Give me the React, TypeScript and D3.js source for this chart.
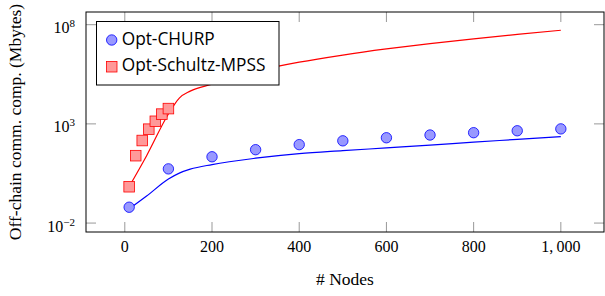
import React from 'react';
import * as d3 from 'd3';

// line samples (x = # nodes)
const lineNodes = [10, 50, 100, 125, 150, 200, 300, 400, 500, 600, 700, 800, 900, 1000];
const churpLine = [0.052, 0.23, 1.66, 3.3, 5.2, 8.9, 18.6, 31.6, 44.7, 61.7, 85, 120, 166, 229];
const schultzLine = [0.69, 25, 3160, 20000, 44700, 100000, 450000, 1290000, 2950000, 6000000, 11200000, 19500000, 32400000, 52500000];

// marker data
const churpNodes = [10, 100, 200, 300, 400, 500, 600, 700, 800, 900, 1000];
const churpPoints = [0.063, 5.4, 22, 50, 90, 140, 200, 275, 360, 450, 560];
const schultzNodes = [10, 25, 40, 55, 70, 85, 100];
const schultzPoints = [0.68, 25, 145, 540, 1350, 3100, 5900];

const xTicks = [0, 200, 400, 600, 800, 1000];
const yTicks = [-2, 3, 8];
const seriesNames = ['Opt-CHURP', 'Opt-Schultz-MPSS'];

const W = 605;
const H = 296;
const left = 86, right = 604, top = 12, bottom = 232;
const serif = '"Liberation Serif", "DejaVu Serif", serif';
const sans = '"Open Sans", "Noto Sans", sans-serif';

const App: React.FC = () => {
  const x = d3.scaleLinear().domain([-89, 1099]).range([left, right]);
  const y = d3.scaleLog().domain([Math.pow(10, -2.45), Math.pow(10, 8.64)]).range([bottom, top]);

  const line = d3.line<[number, number]>()
    .x(d => x(d[0]))
    .y(d => y(d[1]))
    .curve(d3.curveMonotoneX);

  const churpPath = line(lineNodes.map((n, i) => [n, churpLine[i]]));
  const schultzPath = line(lineNodes.map((n, i) => [n, schultzLine[i]]));
  // pgfplots style thousands separator "1, 000"
  const fmt = (v: number) => (v >= 1000 ? d3.format(',')(v).replace(',', ',\u2009') : String(v));
  const tickColor = '#999';

  return (
    <svg width={W} height={H} style={{ position: 'absolute', left: 0, top: 0, background: '#fff' }}>
      <clipPath id="plot-clip">
        <rect x={left} y={top} width={right - left} height={bottom - top} />
      </clipPath>

      {/* ticks */}
      {xTicks.map(t => (
        <g key={'xt' + t}>
          <line x1={x(t)} x2={x(t)} y1={bottom} y2={bottom - 10} stroke={tickColor} />
          <line x1={x(t)} x2={x(t)} y1={top} y2={top + 10} stroke={tickColor} />
          <text x={x(t)} y={252} textAnchor="middle" fontFamily={serif} fontSize={16}>{fmt(t)}</text>
        </g>
      ))}
      {yTicks.map(t => (
        <g key={'yt' + t}>
          <line x1={left} x2={left + 10} y1={y(Math.pow(10, t))} y2={y(Math.pow(10, t))} stroke={tickColor} />
          <line x1={right} x2={right - 10} y1={y(Math.pow(10, t))} y2={y(Math.pow(10, t))} stroke={tickColor} />
          <text x={75} y={y(Math.pow(10, t)) + 8.5} textAnchor="end" fontFamily={serif} fontSize={16}>
            10<tspan dy={-6} fontSize={11}>{t < 0 ? '\u2212' + Math.abs(t) : t}</tspan>
          </text>
        </g>
      ))}

      <g clipPath="url(#plot-clip)">
        <path d={churpPath || ''} fill="none" stroke="#0000ff" strokeWidth={1.2} />
        <path d={schultzPath || ''} fill="none" stroke="#ff0000" strokeWidth={1.2} />
        {churpNodes.map((n, i) => (
          <circle key={'c' + n} cx={x(n)} cy={y(churpPoints[i])} r={5.2} fill="#9999ff" stroke="#0000ff" strokeWidth={0.8} />
        ))}
        {schultzNodes.map((n, i) => (
          <rect key={'s' + n} x={x(n) - 5.3} y={y(schultzPoints[i]) - 5.3} width={10.6} height={10.6}
            fill="#ff9999" stroke="#ff0000" strokeWidth={0.8} />
        ))}
      </g>

      <rect x={left} y={top} width={right - left} height={bottom - top} fill="none" stroke="#000" strokeWidth={1} />

      {/* legend */}
      <g>
        <rect x={96.5} y={21.5} width={182.5} height={63.5} fill="#fff" stroke="#000" strokeWidth={1} />
        <circle cx={111.7} cy={40} r={5.2} fill="#9999ff" stroke="#0000ff" strokeWidth={0.8} />
        <text x={121.7} y={44.5} fontFamily={sans} fontSize={17.3}>{seriesNames[0]}</text>
        <rect x={111.7 - 5.3} y={66.7 - 5.3} width={10.6} height={10.6} fill="#ff9999" stroke="#ff0000" strokeWidth={0.8} />
        <text x={121.7} y={71} fontFamily={sans} fontSize={17.3}>{seriesNames[1]}</text>
      </g>

      {/* axis labels */}
      <text x={(left + right) / 2} y={285} textAnchor="middle" fontFamily={serif} fontSize={17.5}># Nodes</text>
      <text transform={`translate(21, ${(top + bottom) / 2}) rotate(-90)`} textAnchor="middle" fontFamily={serif} fontSize={17.5}>
        Off-chain comm. comp. (Mbytes)
      </text>
    </svg>
  );
};

export default App;
